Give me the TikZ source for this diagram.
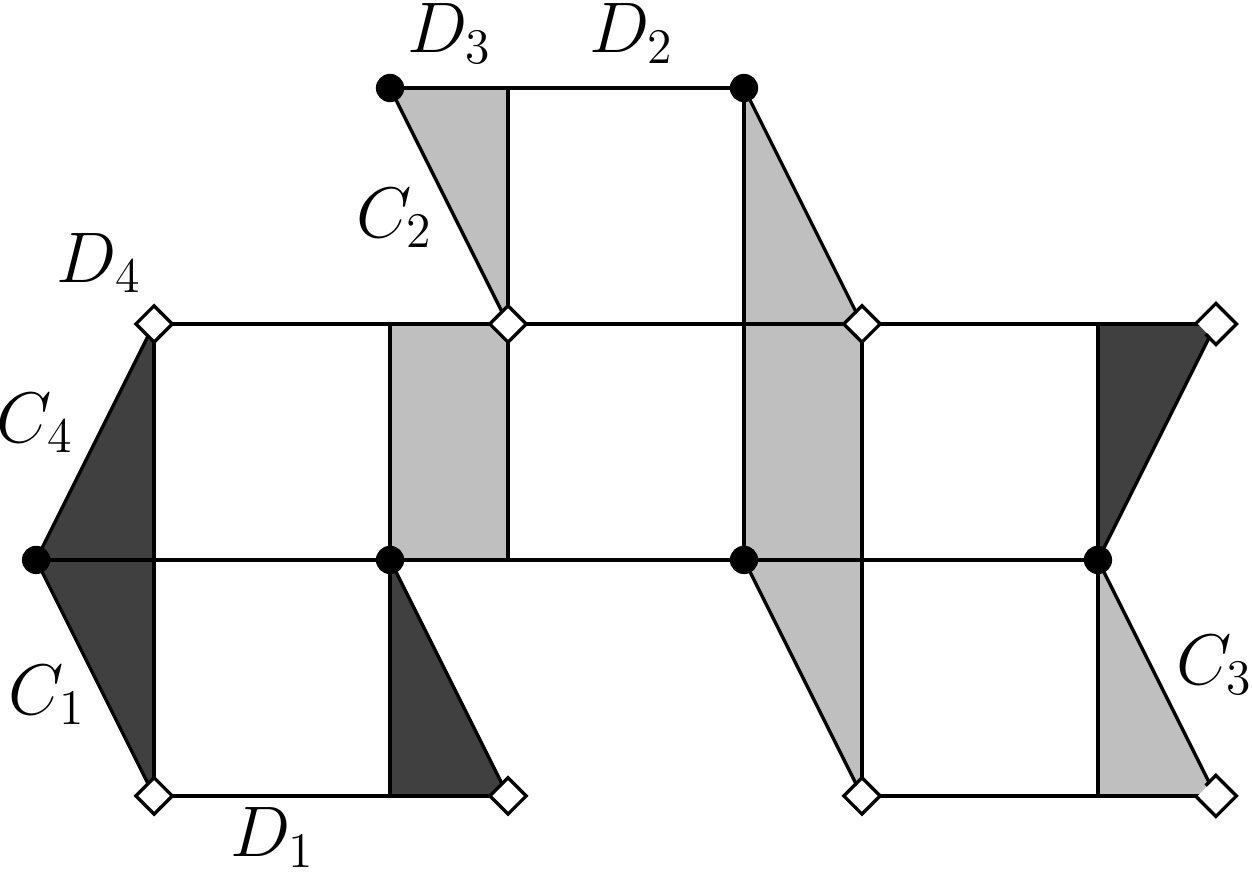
\documentclass[tikz,border=0pt]{standalone}
\usepackage{amsmath,amssymb}
\usetikzlibrary{shapes.geometric}
\colorlet{clrlight}{black!25}
\colorlet{clrdark}{black!75}
\tikzset{
    MyDot/.style={circle,fill=black,inner sep=0pt,minimum size=0.24cm},
    MyDiamond/.style={diamond,fill=white,draw=black,line width=0.8pt,
    inner sep=0pt,minimum size=0.32cm},
    MyLabel/.style={inner sep=0pt,font=\fontsize{17}{20}\selectfont}    }

\begin{document}
\begin{tikzpicture}[x=2cm,y=2cm,edge/.style={line width=0.8pt,black}]
    \useasboundingbox (-0.153,-0.322) rectangle (5.153,3.373);

    % grid points: column c sits at the abscissa listed, row r at height r
    \foreach \x [count=\c from 0] in {0,0.5,1.5,2,3,3.5,4.5,5}
    {
    \foreach \r in {0,1,2,3}
        \coordinate (p\c\r) at (\x,\r);
    }

    % shaded pieces
    \fill[clrlight] (p23) -- (p33) -- (p32) -- cycle;
    \fill[clrlight] (p43) -- (p52) -- (p42) -- cycle;
    \fill[clrlight] (p22) rectangle (p31);
    \fill[clrlight] (p42) rectangle (p51);
    \fill[clrlight] (p41) -- (p51) -- (p50) -- cycle;
    \fill[clrlight] (p61) -- (p60) -- (p70) -- cycle;
    \fill[clrdark] (p12) -- (p01) -- (p10) -- cycle;
    \fill[clrdark] (p21) -- (p20) -- (p30) -- cycle;
    \fill[clrdark] (p62) -- (p72) -- (p61) -- cycle;

    % edges
    \draw[edge] (p23) -- (p43);
    \draw[edge] (p12) -- (p72);
    \draw[edge] (p01) -- (p61);
    \draw[edge] (p10) -- (p30) (p50) -- (p70);
    \foreach \a/\b in {p12/p10,p22/p20,p33/p31,p43/p41,p52/p50,p62/p60}
        \draw[edge] (\a) -- (\b);
    \foreach \a/\b in {p23/p32,p43/p52,p12/p01,p01/p10,p21/p30,p41/p50,p72/p61,p61/p70}
        \draw[edge] (\a) -- (\b);

    % marks
    \foreach \c/\r in {2/3,4/3,0/1,2/1,4/1,6/1}
        \node[MyDot] (dot\c\r) at (p\c\r) {};
    \foreach \c/\r in {1/2,3/2,5/2,1/0,3/0,5/0}
        \node[MyDiamond] (dia\c\r) at (p\c\r) {};
    \node[MyDiamond,draw=none] (dia72) at (p72) {};
    \node[MyDiamond,draw=none] (dia70) at (p70) {};
    \draw[edge] (dia72.south west) -- (dia72.south) -- (dia72.east) -- (dia72.north) -- (dia72.west);
    \draw[edge] (dia70.north west) -- (dia70.north) -- (dia70.east) -- (dia70.south) -- (dia70.west);

    % labels
    \node[MyLabel] (labD3) at (1.754,3.232) {$D_3$};
    \node[MyLabel] (labD2) at (2.525,3.232) {$D_2$};
    \node[MyLabel] (labC2) at (1.521,2.449) {$C_2$};
    \node[MyLabel] (labD4) at (0.267,2.258) {$D_4$};
    \node[MyLabel] (labC4) at (-0.004,1.580) {$C_4$};
    \node[MyLabel] (labC1) at (0.047,0.428) {$C_1$};
    \node[MyLabel] (labD1) at (1.004,-0.175) {$D_1$};
    \node[MyLabel] (labC3) at (4.996,0.555) {$C_3$};
\end{tikzpicture}
\end{document}
